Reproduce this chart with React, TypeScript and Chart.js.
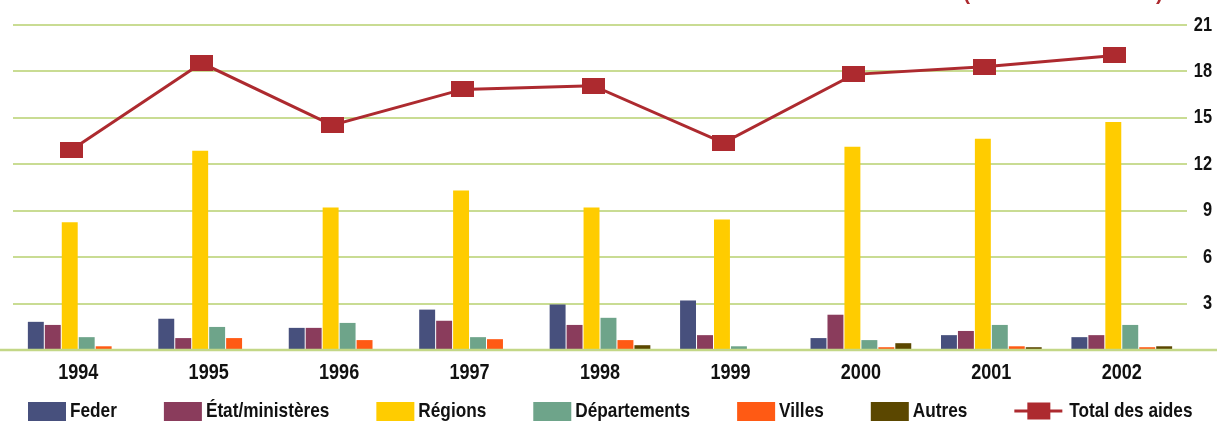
import React, { useEffect, useRef } from "react";
import { Chart, registerables } from "chart.js";

Chart.register(...registerables);

const categories = ["1994", "1995", "1996", "1997", "1998", "1999", "2000", "2001", "2002"];
const feder = [1.82, 2.02, 1.43, 2.61, 2.94, 3.2, 0.77, 0.96, 0.83];
const etat = [1.62, 0.77, 1.43, 1.89, 1.62, 0.96, 2.28, 1.23, 0.96];
const regions = [8.25, 12.88, 9.21, 10.31, 9.21, 8.44, 13.14, 13.65, 14.74];
const departements = [0.83, 1.49, 1.75, 0.83, 2.08, 0.24, 0.64, 1.62, 1.62];
const villes = [0.24, 0.77, 0.64, 0.7, 0.64, 0, 0.18, 0.24, 0.18];
const autres = [0, 0, 0, 0, 0.31, 0, 0.44, 0.18, 0.24];
const totalAides = [12.92, 18.54, 14.53, 16.84, 17.08, 13.39, 17.81, 18.3, 19.03];
const yTickValues = [3, 6, 9, 12, 15, 18, 21];
const unitTitle = "(en millions d'euros)";

const FONT = "'Liberation Sans', Arial, sans-serif";
const NARROW = 0.82;
const GRID = "#c9dc93";
const BASE = "#c3d787";
const LINE = "#ad2a2f";

const barSeries = [
  { label: "Feder", data: feder, color: "#47507d" },
  { label: "État/ministères", data: etat, color: "#8a3c5c" },
  { label: "Régions", data: regions, color: "#ffcc00" },
  { label: "Départements", data: departements, color: "#6ea48a" },
  { label: "Villes", data: villes, color: "#ff5a14" },
  { label: "Autres", data: autres, color: "#5b4700" },
];
const lineLabel = "Total des aides";

const W = 1217;
const H = 421;
const LINE_SHIFT_PX = -7; // the total line sits slightly left of the category centres

function makeMarker(w: number, h: number, color: string) {
  const c = document.createElement("canvas");
  c.width = w;
  c.height = h;
  const ctx = c.getContext("2d")!;
  ctx.fillStyle = color;
  ctx.fillRect(0, 0, w, h);
  return c;
}

function narrowText(ctx: CanvasRenderingContext2D, text: string, x: number, y: number, align: "left" | "center" | "right") {
  ctx.save();
  ctx.translate(x, y);
  ctx.scale(NARROW, 1);
  ctx.textAlign = align;
  ctx.textBaseline = "middle";
  ctx.fillText(text, 0, 0);
  ctx.restore();
}

export default function App() {
  const ref = useRef<HTMLCanvasElement | null>(null);

  useEffect(() => {
    if (!ref.current) return;
    const marker = makeMarker(23, 16, LINE);
    const lineIndex = barSeries.length;

    const extras = {
      id: "extras",
      beforeDatasetDraw(chart: any, args: any) {
        if (args.index === lineIndex) {
          chart.ctx.save();
          chart.ctx.translate(LINE_SHIFT_PX, 0);
        }
      },
      afterDatasetDraw(chart: any, args: any) {
        if (args.index === lineIndex) chart.ctx.restore();
      },
      afterDatasetsDraw(chart: any) {
        const ctx = chart.ctx;
        const y0 = chart.scales.y.getPixelForValue(0);
        ctx.save();
        ctx.strokeStyle = BASE;
        ctx.lineWidth = 2.5;
        ctx.beginPath();
        ctx.moveTo(0, y0);
        ctx.lineTo(chart.width, y0);
        ctx.stroke();
        ctx.restore();
      },
      afterDraw(chart: any) {
        const ctx: CanvasRenderingContext2D = chart.ctx;
        const xs = chart.scales.x;
        const ys = chart.scales.y;
        ctx.save();
        ctx.fillStyle = "#111";
        // category labels
        ctx.font = `bold 22px ${FONT}`;
        categories.forEach((c, i) => {
          narrowText(ctx, c, xs.getPixelForValue(i), 373, "center");
        });
        // value labels
        ctx.font = `bold 20px ${FONT}`;
        yTickValues.forEach((v) => {
          narrowText(ctx, String(v), chart.width - 5, ys.getPixelForValue(v), "right");
        });
        // legend
        ctx.font = `bold 21px ${FONT}`;
        let x = 28;
        const ly = 411;
        barSeries.forEach((s) => {
          ctx.fillStyle = s.color;
          ctx.fillRect(x, ly - 9, 38, 19);
          x += 38 + 4;
          ctx.fillStyle = "#111";
          narrowText(ctx, s.label, x, ly, "left");
          x += ctx.measureText(s.label).width * NARROW + 47;
        });
        ctx.strokeStyle = LINE;
        ctx.lineWidth = 3;
        ctx.beginPath();
        ctx.moveTo(x, ly);
        ctx.lineTo(x + 48, ly);
        ctx.stroke();
        ctx.fillStyle = LINE;
        ctx.fillRect(x + 13, ly - 8.5, 23, 17);
        x += 48 + 7;
        ctx.fillStyle = "#111";
        narrowText(ctx, lineLabel, x, ly, "left");
        // unit title (clipped at the top edge)
        ctx.fillStyle = LINE;
        ctx.font = `bold 20.5px ${FONT}`;
        ctx.textAlign = "center";
        ctx.textBaseline = "alphabetic";
        ctx.fillText(unitTitle, 1063, 0);
        ctx.restore();
      },
    };

    const chart = new Chart(ref.current, {
      type: "bar",
      data: {
        labels: categories,
        datasets: [
          ...barSeries.map((s) => ({
            type: "bar",
            label: s.label,
            data: s.data,
            backgroundColor: s.color,
            borderWidth: 0,
            categoryPercentage: 0.78,
            barPercentage: 0.94,
            xAxisID: "x",
            yAxisID: "y",
            order: 1,
          })),
          {
            type: "line",
            label: lineLabel,
            data: totalAides,
            xAxisID: "x",
            yAxisID: "y",
            borderColor: LINE,
            borderWidth: 3,
            pointStyle: marker as any,
            pointRadius: 10,
            tension: 0,
            order: 0,
          } as any,
        ] as any,
      },
      options: {
        animation: false,
        responsive: false,
        maintainAspectRatio: false,
        layout: { padding: { left: 9, right: 5, top: 25, bottom: 0 } },
        plugins: {
          legend: { display: false },
          tooltip: { enabled: false },
          title: { display: false },
        },
        scales: {
          x: {
            type: "category",
            position: "bottom",
            offset: true,
            grid: { display: false },
            border: { display: false },
            ticks: { display: false },
            afterFit(scale: any) {
              scale.height = 71;
            },
          },
          y: {
            type: "linear",
            position: "right",
            min: 0,
            max: 21,
            afterBuildTicks(scale: any) {
              scale.ticks = [0, ...yTickValues].map((v) => ({ value: v }));
            },
            grid: {
              drawTicks: false,
              lineWidth: 2,
              color: (c: any) => (c.tick && c.tick.value === 0 ? "rgba(0,0,0,0)" : GRID),
            },
            border: { display: false },
            ticks: { display: false },
            afterFit(scale: any) {
              scale.width = 25;
            },
          },
        },
      } as any,
      plugins: [extras],
    });
    return () => chart.destroy();
  }, []);

  return (
    <div style={{ position: "absolute", left: 0, top: 0, width: W, height: H, background: "#fff" }}>
      <canvas ref={ref} width={W} height={H} style={{ display: "block", width: W, height: H }} />
    </div>
  );
}
